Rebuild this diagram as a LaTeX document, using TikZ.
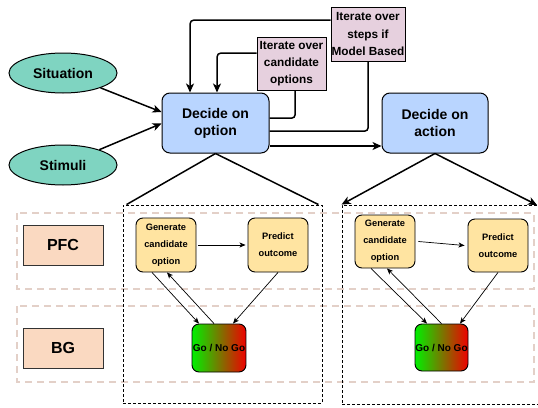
\documentclass[tikz,border=0pt]{standalone}
\usepackage{fontspec}
\setmainfont{Liberation Sans}
\usetikzlibrary{arrows.meta,shapes.geometric}
\definecolor{teal1}{HTML}{7FD4C1}
\definecolor{blue1}{HTML}{B9D5FF}
\definecolor{pink1}{HTML}{E6D0DE}
\definecolor{peach1}{HTML}{FAD9C1}
\definecolor{yell1}{HTML}{FFE4A1}
\definecolor{lane1}{HTML}{E3D0C8}
\definecolor{gogreen}{HTML}{00F000}
\definecolor{gored}{HTML}{F00000}
\tikzset{
  ell/.style={ellipse, draw=black, line width=1pt, fill=teal1, minimum width=108pt, minimum height=40pt, inner sep=0pt, font=\fontsize{14}{17}\selectfont\bfseries},
  bluebox/.style={rectangle, rounded corners=8pt, draw=black, line width=1pt, fill=blue1, minimum width=107pt, minimum height=60pt, inner sep=0pt, align=center, font=\fontsize{14}{17}\selectfont\bfseries},
  iterbox/.style={rectangle, draw=black, line width=1pt, fill=pink1, inner sep=0pt, align=center, font=\fontsize{11.8}{17.3}\selectfont\bfseries},
  labbox/.style={rectangle, draw=black!80, line width=1pt, fill=peach1, minimum width=80pt, minimum height=40pt, inner sep=0pt, font=\fontsize{16}{18}\selectfont\bfseries},
  lanebox/.style={draw=lane1, line width=1.6pt, dash pattern=on 7pt off 5pt},
  blkdash/.style={draw=black, line width=0.9pt, dash pattern=on 3pt off 2pt},
  ybox/.style={rectangle, rounded corners=7pt, draw=black, line width=0.9pt, fill=yell1, minimum width=60pt, minimum height=54pt, inner sep=0pt, align=center, font=\fontsize{9.3}{17}\selectfont\bfseries},
  gobox/.style={rectangle, rounded corners=7pt, draw=black, line width=0.9pt, left color=gogreen, right color=gored, minimum width=54pt, minimum height=48pt, inner sep=0pt, font=\fontsize{10}{11}\selectfont\bfseries},
  thk/.style={line width=1.5pt, draw=black},
  arr/.style={thk, -{Stealth[length=9pt,width=8pt,inset=2.5pt]}},
  sarr/.style={line width=0.7pt, draw=black, -{Stealth[length=6pt,width=5pt,inset=1.5pt]}},
}
\begin{document}
\begin{tikzpicture}[x=1pt,y=-1pt]
\useasboundingbox (0,0) rectangle (538,407);
\fill[white] (0,0) rectangle (538,407);
% lanes and dashed frames
\draw[lanebox] (17,213) rectangle (534,289);
\draw[lanebox] (17,306) rectangle (534,382);
\node[blkdash, rectangle, minimum width=199pt, minimum height=198pt, inner sep=0pt] (boxL) at (222.5,304) {};
\node[blkdash, rectangle, minimum width=203pt, minimum height=199pt, inner sep=0pt] (boxR) at (443.5,304.5) {};
% top nodes
\node[ell] (sit) at (63,73) {Situation};
\node[ell] (stim) at (63,165) {Stimuli};
\node[bluebox] (opt) at (215.5,123) {Decide on\\option};
\node[bluebox, minimum width=106pt] (act) at (435,123) {Decide on\\action};
\node[iterbox, minimum width=69pt, minimum height=53pt] (it1) at (291.5,63.5) {Iterate over\\candidate\\options};
\node[iterbox, minimum width=74pt, minimum height=54pt] (it2) at (368,34) {Iterate over\\steps if\\Model Based};
% labels
\node[labbox] (pfc) at (63,245) {PFC};
\node[labbox] (bg) at (63,348) {BG};
% inner left
\node[ybox] (gen1) at (166,245) {Generate\\candidate\\option};
\node[ybox] (pred1) at (278,245) {Predict\\outcome};
\node[gobox] (go1) at (219,348) {Go / No Go};
% inner right
\node[ybox, minimum height=53pt] (gen2) at (385,241.5) {Generate\\candidate\\option};
\node[ybox, minimum height=53pt] (pred2) at (498,245.5) {Predict\\outcome};
\node[gobox, minimum width=53pt, minimum height=47pt] (go2) at (441.5,347.5) {Go / No Go};
% top connectors
\draw[arr] (sit) -- ([yshift=11pt]opt.west);
\draw[arr] (stim) -- ([yshift=-0.5pt]opt.west);
\draw[thk, rounded corners=3pt] ([yshift=5pt]opt.east) -| ([xshift=3.5pt]it1.south);
\draw[arr, rounded corners=4pt] ([yshift=10.5pt]it1.west) -| ([xshift=1.5pt]opt.north);
\draw[thk, rounded corners=3pt] ([yshift=-8pt]opt.east) -| (it2.south);
\draw[arr, rounded corners=4pt] ([yshift=14pt]it2.west) -| ([xshift=-25.5pt]opt.north);
\draw[arr] ([yshift=-23pt]opt.east) -- ([yshift=-23pt]act.west);
\coordinate (oL) at ([xshift=4pt]boxL.north west);
\coordinate (oR) at ([xshift=-4pt]boxL.north east);
\coordinate (aR) at (537,205);
\draw[thk] (opt.south) -- (oL);
\draw[thk] (opt.south) -- (oR);
\draw[arr] (act.south) -- (boxR.north west);
\draw[arr] (act.south) -- (aR);
% inner connectors left
\draw[sarr] ([xshift=2pt]gen1.east) -- ([xshift=-2pt]pred1.west);
\draw[sarr] ([xshift=-14pt]gen1.south) -- ([xshift=-20pt]go1.north);
\draw[sarr] ([xshift=-5pt]go1.north) -- ([xshift=1pt]gen1.south);
\draw[sarr] (pred1.south) -- ([xshift=14pt]go1.north);
% inner connectors right
\draw[sarr] ([xshift=3pt]gen2.east) -- ([xshift=-3pt]pred2.west);
\draw[sarr] ([xshift=-14pt]gen2.south) -- ([xshift=-14.5pt]go2.north);
\draw[sarr] ([xshift=0pt]go2.north) -- ([xshift=2pt]gen2.south);
\draw[sarr] (pred2.south) -- ([xshift=18.5pt]go2.north);
\end{tikzpicture}
\end{document}
